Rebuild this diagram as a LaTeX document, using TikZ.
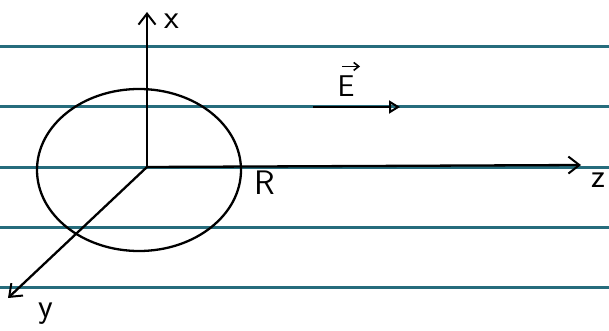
\documentclass[tikz,border=0pt]{standalone}
\usepackage{fontspec}
\usetikzlibrary{arrows.meta}
\definecolor{rule}{RGB}{38,108,124}
\begin{document}
\begin{tikzpicture}[x=1pt,y=-1pt,
  ruled/.style={rule,line width=3pt},
  axis/.style={black,line width=2.3pt,-{Straight Barb[length=11pt,width=17pt,line width=2pt]}},
  lbl/.style={font=\sffamily\fontsize{34}{36}\selectfont,inner sep=0pt}]
\useasboundingbox (0,0) rectangle (609,331);
\fill[white] (0,0) rectangle (609,331);
\foreach \yy in {47,107,167,227,287}
  \draw[ruled] (0,\yy) -- (609,\yy);
\coordinate (O) at (147,167);
\coordinate (xe) at (147,12);
\coordinate (ze) at (581,165);
\coordinate (ye) at (8,298);
\coordinate (es) at (313,107);
\coordinate (ee) at (400,107);
\draw[black,line width=2.3pt] (139,170) ellipse [x radius=102, y radius=81];
\draw[axis] (O) -- (xe);
\draw[axis] (O) -- (ze);
\draw[axis] (O) -- (ye);
\draw[black,line width=2.3pt,-{Triangle[open,length=11pt,width=13pt,line width=2pt]}] (es) -- (ee);
\node[lbl] (lx) at (172,21) {x};
\node[lbl] (lz) at (598,180) {z};
\node[lbl] (ly) at (46,314) {y};
\node[lbl] (lR) at (265,183) {R};
\node[lbl,font=\sffamily\fontsize{30}{30}\selectfont] (lE) at (346,86) {E};
\coordinate (va) at ([xshift=-4pt,yshift=9pt]lE.north);
\coordinate (vb) at ([xshift=14pt,yshift=9pt]lE.north);
\draw[black,line width=1.8pt,-{Straight Barb[length=5pt,width=8pt,line width=1.6pt]}] (va) -- (vb);
\end{tikzpicture}
\end{document}
